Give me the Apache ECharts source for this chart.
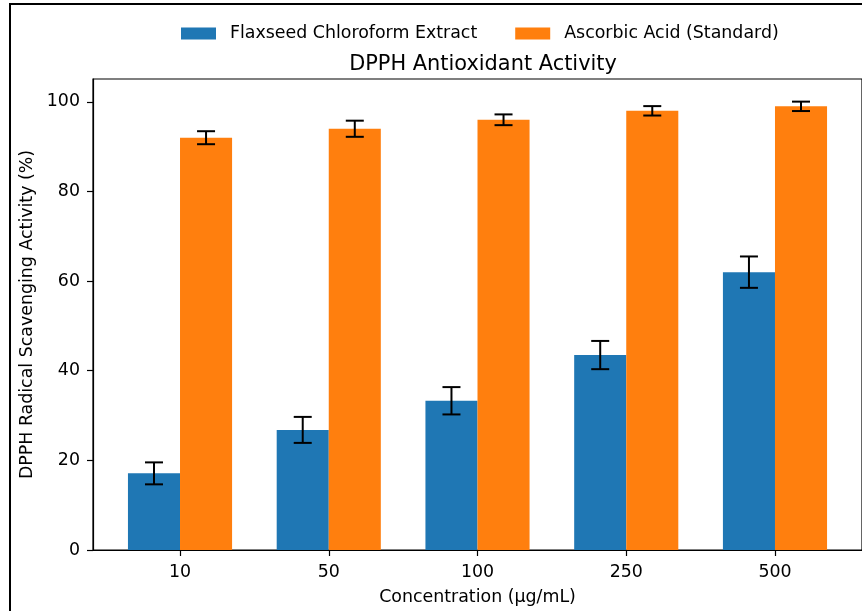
<!DOCTYPE html>
<html>
<head>
<meta charset="utf-8">
<script src="https://cdn.jsdelivr.net/npm/echarts@6/dist/echarts.min.js"></script>
<style>
html,body{margin:0;padding:0;background:#fff;}
#chart{width:862px;height:611px;}
</style>
</head>
<body>
<div id="chart"></div>
<script>
const categories = ['10', '50', '100', '250', '500'];
const flaxseed = [17.1, 26.8, 33.3, 43.5, 62.0];
const flaxseedErr = [2.45, 2.9, 3.05, 3.15, 3.5];
const ascorbic = [92.0, 94.0, 96.0, 98.0, 99.0];
const ascorbicErr = [1.45, 1.8, 1.2, 1.05, 1.05];
const yTicks = [0, 20, 40, 60, 80, 100];
const seriesNames = ['Flaxseed Chloroform Extract', 'Ascorbic Acid (Standard)'];

const FONT = 'DejaVu Sans';
const FS = 17.4;
const catIdx = categories.map((c, i) => i);
const barHalf = 0.175;

const blueData = flaxseed.map((v, i) => [i, v]);
const orangeData = ascorbic.map((v, i) => [i, v]);
const blueErrData = flaxseed.map((v, i) => [i - barHalf, v - flaxseedErr[i], v + flaxseedErr[i]]);
const orangeErrData = ascorbic.map((v, i) => [i + barHalf, v - ascorbicErr[i], v + ascorbicErr[i]]);

function errRender(params, api) {
  const x = api.value(0);
  const lo = api.coord([x, api.value(1)]);
  const hi = api.coord([x, api.value(2)]);
  const cap = 9;
  const style = { stroke: '#000', lineWidth: 2 };
  return {
    type: 'group',
    children: [
      { type: 'line', shape: { x1: lo[0], y1: lo[1], x2: hi[0], y2: hi[1] }, style },
      { type: 'line', shape: { x1: lo[0] - cap, y1: lo[1], x2: lo[0] + cap, y2: lo[1] }, style },
      { type: 'line', shape: { x1: hi[0] - cap, y1: hi[1], x2: hi[0] + cap, y2: hi[1] }, style }
    ]
  };
}

const chart = echarts.init(document.getElementById('chart'), null, { renderer: 'canvas' });
chart.setOption({
  animation: false,
  backgroundColor: '#fff',
  textStyle: { fontFamily: FONT },
  title: {
    text: 'DPPH Antioxidant Activity',
    left: 478, top: 49, textAlign: 'center',
    textStyle: { fontFamily: FONT, fontSize: 20.9, fontWeight: 'normal', color: '#000' }
  },
  legend: {
    data: seriesNames,
    left: 181, top: 25,
    itemWidth: 35, itemHeight: 12, itemGap: 38, padding: 0,
    icon: 'rect',
    textStyle: { fontFamily: FONT, fontSize: FS, color: '#000', padding: [0, 0, 0, 9] }
  },
  grid: {
    left: 93, top: 79, width: 770, height: 471,
    show: true, borderColor: '#000', borderWidth: 1.2, containLabel: false
  },
  xAxis: {
    type: 'value', min: -0.585, max: 4.585,
    name: 'Concentration (µg/mL)', nameLocation: 'middle', nameGap: 39,
    nameTextStyle: { fontFamily: FONT, fontSize: FS, color: '#000' },
    axisLine: { show: true, onZero: false, lineStyle: { color: '#000', width: 1.2 } },
    axisTick: { show: true, length: 6, lineStyle: { color: '#000', width: 1.2 }, customValues: catIdx },
    axisLabel: { fontFamily: FONT, fontSize: FS, color: '#000', margin: 14, customValues: catIdx,
      formatter: v => categories[Math.round(v)] },
    splitLine: { show: false }
  },
  yAxis: {
    type: 'value', min: 0, max: 105.1,
    name: 'DPPH Radical Scavenging Activity (%)', nameLocation: 'middle', nameGap: 50,
    nameTextStyle: { fontFamily: FONT, fontSize: FS, color: '#000' },
    axisLine: { show: true, onZero: false, lineStyle: { color: '#000', width: 1.2 } },
    axisTick: { show: true, length: 6, lineStyle: { color: '#000', width: 1.2 }, customValues: yTicks },
    axisLabel: { fontFamily: FONT, fontSize: FS, color: '#000', margin: 13, customValues: yTicks },
    splitLine: { show: false }
  },
  graphic: [
    { type: 'rect', shape: { x: 9, y: 3, width: 2, height: 620 }, style: { fill: '#000' }, z: 100 },
    { type: 'rect', shape: { x: 9, y: 3, width: 860, height: 2 }, style: { fill: '#000' }, z: 100 }
  ],
  series: [
    { name: seriesNames[0], type: 'bar', data: blueData, barWidth: '35%', barGap: '0%',
      itemStyle: { color: '#1f77b4' } },
    { name: seriesNames[1], type: 'bar', data: orangeData, barWidth: '35%', barGap: '0%',
      itemStyle: { color: '#ff7f0e' } },
    { type: 'custom', data: blueErrData, renderItem: errRender, encode: { x: 0, y: [1, 2] }, z: 10 },
    { type: 'custom', data: orangeErrData, renderItem: errRender, encode: { x: 0, y: [1, 2] }, z: 10 }
  ]
});
</script>
</body>
</html>
